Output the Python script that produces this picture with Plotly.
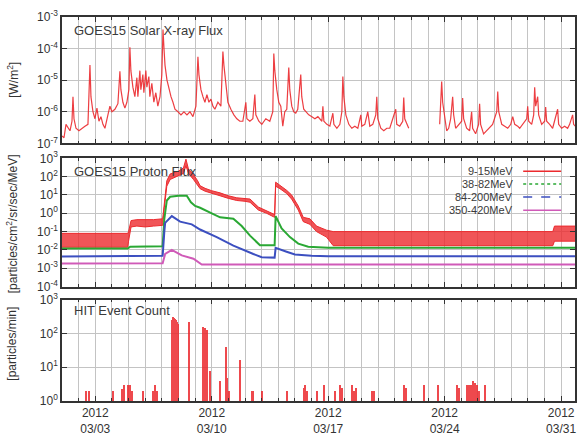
import pandas as pd
import plotly.graph_objects as go
from plotly.subplots import make_subplots

START = pd.Timestamp("2012-03-01")

# ---------------- GOES15 X-ray flux (days since 2012-03-01, W/m^2) -------------
xray_day = [0.0, 0.12, 0.24, 0.36, 0.48, 0.6, 0.66, 0.72, 0.84, 1.02, 1.2, 1.38, 1.56, 1.68, 1.74,
            1.86, 1.98, 2.1, 2.22, 2.34, 2.46, 2.58, 2.76, 2.88, 3.0, 3.18, 3.36, 3.48, 3.54, 3.66,
            3.78, 3.9, 4.02, 4.08, 4.14, 4.26, 4.38, 4.5, 4.56, 4.68, 4.74, 4.86, 4.92, 5.04, 5.1,
            5.22, 5.28, 5.4, 5.52, 5.64, 5.76, 5.89, 6.0, 6.07, 6.13, 6.19, 6.31, 6.43, 6.55, 6.67,
            6.79, 6.97, 7.15, 7.33, 7.51, 7.69, 7.87, 8.05, 8.17, 8.23, 8.35, 8.47, 8.59, 8.71, 8.83,
            8.95, 9.07, 9.19, 9.37, 9.55, 9.67, 9.73, 9.85, 9.97, 10.15, 10.33, 10.51, 10.69, 10.87,
            11.05, 11.11, 11.29, 11.47, 11.59, 11.65, 11.83, 12.01, 12.25, 12.49, 12.67, 12.73, 12.79,
            12.91, 13.03, 13.15, 13.27, 13.39, 13.51, 13.63, 13.69, 13.81, 13.93, 14.05, 14.17, 14.35,
            14.41, 14.53, 14.65, 14.83, 15.02, 15.2, 15.38, 15.62, 15.68, 15.74, 15.92, 16.1, 16.28,
            16.34, 16.52, 16.7, 16.82, 16.88, 16.94, 17.06, 17.24, 17.42, 17.6, 17.78, 17.96, 18.02,
            18.2, 18.38, 18.5, 18.68, 18.86, 18.92, 18.98, 19.16, 19.34, 19.52, 19.7, 20.06, 20.12,
            20.3, 20.48, 20.54, 20.6, 20.72, 20.84, 21.8,
            22.7, 22.82, 22.88, 23.0, 23.12, 23.24, 23.36, 23.48, 23.54, 23.66, 23.84, 24.02, 24.08,
            24.14, 24.32, 24.5, 24.62, 24.68, 24.86, 25.04, 25.1, 25.16, 25.34, 25.52, 25.7, 25.88,
            26.13, 26.19, 26.25, 26.43, 26.61, 26.79, 26.97, 27.09, 27.21, 27.39, 27.51, 27.69, 27.93,
            27.99, 28.05, 28.23, 28.35, 28.41, 28.47, 28.59, 28.65, 28.83, 29.01, 29.07, 29.13, 29.31,
            29.49, 29.79, 29.85, 30.03, 30.21, 30.39, 30.51, 30.69, 30.75, 30.85]
xray_flux = [1.7e-7, 1.5e-7, 4e-7, 3e-7, 2.5e-7, 5e-7, 3e-6, 6e-7, 3e-7, 2.5e-7, 3e-7, 3.5e-7, 4e-7, 3e-5, 3e-6,
             1e-6, 6e-7, 1.3e-6, 5e-7, 7e-7, 4e-7, 3e-7, 8e-7, 1.5e-6, 1e-6, 1.2e-6, 1.8e-6, 1.9e-5, 5e-6, 2e-6,
             1.3e-6, 2e-6, 5e-6, 1.1e-4, 2e-5, 6e-6, 3e-6, 1.2e-5, 3e-6, 2e-5, 5e-6, 1.5e-5, 4e-6, 2e-5, 6e-6,
             1.3e-5, 3e-6, 8e-6, 2e-6, 4e-6, 1.5e-6, 3e-6, 1.5e-5, 4e-4, 1e-4, 3e-5, 1e-5, 5e-6, 3e-6, 2e-6,
             1.2e-6, 1e-6, 8e-7, 1e-6, 8e-7, 1e-6, 7e-7, 1.5e-6, 5.5e-5, 1.5e-5, 5e-6, 3e-6, 2e-6, 3.5e-6, 2e-6,
             2.5e-6, 1.5e-6, 1.2e-6, 2e-6, 1.5e-6, 8e-5, 3e-5, 6e-6, 2e-6, 1.2e-6, 8e-7, 6e-7, 5e-7, 5e-7,
             2e-6, 6e-7, 5e-7, 6e-7, 3.5e-6, 8e-7, 5e-7, 4e-7, 6e-7, 5e-7, 1e-6, 7e-5, 2e-5,
             5e-6, 2e-6, 1.5e-6, 3.5e-7, 1e-6, 1.2e-6, 2.5e-5, 5e-6, 1.5e-6, 1e-6, 9e-7, 1.2e-6, 1.5e-5,
             3e-6, 1.2e-6, 1e-6, 8e-7, 7e-7, 6e-7, 7e-7, 5e-7, 1.5e-6, 5e-7, 4e-7, 3.5e-7, 9e-7,
             4e-7, 3e-7, 4e-7, 1e-6, 1.3e-5, 3e-6, 8e-7, 4e-7, 3e-7, 3.5e-7, 3e-7, 8e-7, 3.5e-7,
             4e-7, 1e-6, 3.5e-7, 4e-7, 8e-7, 3e-6, 6e-7, 3e-7, 2.5e-7, 3e-7, 3e-7, 1.2e-6, 4e-7,
             3.5e-7, 5e-7, 2.8e-6, 6e-7, 4e-7, 3e-7, None,
             4e-7, 9e-6, 2e-6, 6e-7, 2.5e-7, 3e-7, 6e-7, 3e-6, 8e-7, 3e-7, 4e-7, 5e-7, 2.7e-6,
             6e-7, 3e-7, 2.5e-7, 1e-6, 3e-7, 2e-7, 4e-7, 1.8e-6, 4e-7, 2e-7, 2.5e-7, 3e-7, 4e-7,
             1e-6, 4.4e-6, 1e-6, 4e-7, 3.5e-7, 3e-7, 4e-7, 7e-7, 4e-7, 3.5e-7, 3e-7, 4e-7, 6e-7,
             1.5e-6, 5e-7, 4e-7, 8e-7, 6e-6, 1.5e-6, 3e-6, 8e-7, 4e-7, 5e-7, 1.4e-6, 5e-7, 4e-7,
             3e-7, 1.2e-6, 4e-7, 3e-7, 3.5e-7, 3e-7, 4e-7, 8e-7, 4e-7, 3.5e-7]

# ---------------- GOES15 proton flux (particles/cm2/sr/sec/MeV) ----------------
p9_day = [0.0, 3.95, 4.0, 4.15, 4.5, 5.0, 5.5, 6.05, 6.15, 6.3, 6.5, 7.0, 7.3, 7.45, 7.6, 7.9,
          8.15, 8.3, 8.6, 9.0, 9.5, 10.0, 10.5, 11.0, 11.3, 11.8, 12.3, 12.7, 12.78, 12.84, 13.1,
          13.5, 13.8, 14.2, 14.5, 14.9, 15.3, 15.9, 16.3, 20.0, 25.0, 29.5, 29.6, 31.0]
p9_low = [0.014, 0.014, 0.03, 0.18, 0.2, 0.18, 0.2, 0.22, 2, 30, 70, 120, 150, 400, 150, 70,
          35, 22, 16, 12, 9, 6.5, 5, 4.5, 4, 1.5, 1.0, 0.65, 0.6, 30, 22,
          12, 6, 1.5, 0.35, 0.25, 0.1, 0.05, 0.017, 0.017, 0.017, 0.017, 0.03, 0.03]
p9_high = [0.08, 0.08, 0.1, 0.4, 0.45, 0.45, 0.45, 0.5, 5, 60, 140, 200, 300, 900, 260, 130,
           60, 32, 23, 17, 13, 9, 7, 6.5, 6, 2.2, 1.4, 0.9, 0.85, 50, 34,
           18, 10, 2.5, 0.6, 0.5, 0.2, 0.12, 0.1, 0.1, 0.1, 0.1, 0.2, 0.2]

p38_day = [0.0, 3.95, 4.1, 6.05, 6.15, 6.3, 6.5, 7.0, 7.5, 7.75, 8.0, 8.3, 9.0, 9.5, 10.3, 10.8,
           11.3, 11.9, 12.78, 12.84, 13.2, 13.7, 14.2, 14.8, 16.0, 31.0]
p38_flux = [0.012, 0.012, 0.015, 0.016, 0.5, 5, 8, 9, 9, 4, 2.5, 2, 1.0, 0.6, 0.5, 0.2,
            0.06, 0.018, 0.018, 0.7, 0.15, 0.05, 0.022, 0.015, 0.013, 0.013]

p84_day = [0.0, 6.05, 6.15, 6.2, 6.6, 7.1, 7.8, 8.3, 9.3, 10.3, 11.5, 12.0, 12.78, 12.84, 13.5,
           14.0, 15.0, 16.0, 31.0]
p84_flux = [0.0044, 0.0048, 0.1, 0.3, 0.7, 0.35, 0.25, 0.13, 0.05, 0.017, 0.006, 0.004, 0.0038,
            0.013, 0.008, 0.0056, 0.0048, 0.0045, 0.0045]

p350_day = [0.0, 6.05, 6.2, 6.6, 7.2, 7.9, 8.4, 31.0]
p350_flux = [0.0018, 0.0019, 0.006, 0.01, 0.005, 0.0033, 0.0016, 0.0016]

# ---------------- HIT event count (particles/min) ----------------
hit_day = [1.44, 1.62, 3.06, 3.6, 3.72, 3.96, 4.08, 4.2, 4.86, 5.47, 5.59, 5.71, 6.61, 6.67, 6.73,
           6.79, 6.85, 6.91, 6.97, 7.63, 8.47, 8.59, 8.71, 8.89, 9.49, 9.85, 9.91, 10.03, 10.69,
           11.41, 11.47, 12.01, 13.51, 14.53, 14.59, 14.71, 15.32, 15.74, 16.4, 16.7, 16.82, 17.42,
           17.54, 17.66, 18.62, 18.74, 20.54, 20.66, 21.74, 22.58, 23.72, 23.84, 24.32, 24.44, 24.56,
           24.68, 24.8, 24.92, 25.05, 25.41]
hit_count = [2, 2, 2, 2.3, 3, 3, 3, 2, 2, 2, 3, 2, 250, 320, 300,
             280, 260, 230, 200, 220, 160, 150, 130, 8, 4, 40, 5, 2, 17,
             2, 2, 2, 2, 2.5, 3, 2, 2, 3, 2, 3, 2.5, 3,
             2, 2.5, 2, 2, 3, 2.5, 3, 3, 3, 2.5, 3, 3, 3,
             4, 3.5, 3, 2, 3]

legend_names = ["9-15MeV", "38-82MeV", "84-200MeV", "350-420MeV"]
date_ticks = ["2012-03-03", "2012-03-10", "2012-03-17", "2012-03-24", "2012-03-31"]
date_tick_text = ["2012<br>03/03", "2012<br>03/10", "2012<br>03/17", "2012<br>03/24", "2012<br>03/31"]


def to_dates(days):
    return [START + pd.Timedelta(days=d) for d in days]


RED = "#ec2a2e"
GREEN = "#2aa834"
BLUE = "#3c4fc0"
MAGENTA = "#d05ab8"
FRAME = "#333333"
GRID = "#c4c4c4"
FONT = "Liberation Sans, Arial, sans-serif"

fig = make_subplots(rows=3, cols=1, shared_xaxes=False, vertical_spacing=0.02)

# X-ray
fig.add_trace(go.Scatter(x=to_dates(xray_day), y=xray_flux, mode="lines",
                         line=dict(color=RED, width=1.2), connectgaps=False,
                         opacity=0.9, showlegend=False), row=1, col=1)

# Proton 9-15 MeV band (noisy)
fig.add_trace(go.Scatter(x=to_dates(p9_day), y=p9_low, mode="lines",
                         line=dict(color=RED, width=1), showlegend=False), row=2, col=1)
fig.add_trace(go.Scatter(x=to_dates(p9_day), y=p9_high, mode="lines", fill="tonexty",
                         fillcolor="rgba(236,42,46,0.8)",
                         line=dict(color=RED, width=1), showlegend=False), row=2, col=1)
fig.add_trace(go.Scatter(x=to_dates(p38_day), y=p38_flux, mode="lines",
                         line=dict(color=GREEN, width=2), showlegend=False), row=2, col=1)
fig.add_trace(go.Scatter(x=to_dates(p84_day), y=p84_flux, mode="lines",
                         line=dict(color=BLUE, width=2), showlegend=False), row=2, col=1)
fig.add_trace(go.Scatter(x=to_dates(p350_day), y=p350_flux, mode="lines",
                         line=dict(color=MAGENTA, width=2), showlegend=False), row=2, col=1)

# HIT
fig.add_trace(go.Bar(x=to_dates(hit_day), y=hit_count, width=0.07 * 86400000,
                     marker=dict(color=RED, line=dict(width=0)), opacity=0.85,
                     showlegend=False), row=3, col=1)

xcommon = dict(
    type="date", range=["2012-03-01", "2012-03-31 20:00"],
    tickvals=date_ticks, ticktext=date_tick_text,
    ticks="inside", ticklen=5, tickcolor=FRAME,
    showline=True, linecolor=FRAME, linewidth=1.5, mirror="allticks",
    showgrid=True, gridcolor=GRID, gridwidth=1,
    minor=dict(dtick=86400000, tick0="2012-03-01", showgrid=True, gridcolor=GRID,
               ticks="inside", ticklen=3, tickcolor=FRAME),
    tickfont=dict(family=FONT, size=12, color=FRAME),
    zeroline=False,
)


def sup_labels(lo, hi):
    vals = [10.0 ** k for k in range(lo, hi + 1)]
    text = ["10<sup>%d</sup>" % k for k in range(lo, hi + 1)]
    return vals, text


def ycommon(lo, hi, domain):
    vals, text = sup_labels(lo, hi)
    return dict(
        type="log", range=[lo, hi], domain=domain,
        tickvals=vals, ticktext=text,
        ticks="inside", ticklen=5, tickcolor=FRAME,
        showline=True, linecolor=FRAME, linewidth=1.5, mirror="allticks",
        showgrid=True, gridcolor=GRID, gridwidth=1,
        tickfont=dict(family=FONT, size=12, color=FRAME),
        zeroline=False,
    )


fig.update_layout(
    xaxis=dict(xcommon, showticklabels=False, domain=[0, 1]),
    xaxis2=dict(xcommon, showticklabels=False, domain=[0, 1]),
    xaxis3=dict(xcommon, showticklabels=True, domain=[0, 1]),
    yaxis=ycommon(-7, -3, [0.671, 1.0]),
    yaxis2=ycommon(-4, 3, [0.298, 0.632]),
    yaxis3=ycommon(0, 3, [0.0, 0.264]),
    width=578, height=437,
    margin=dict(l=62, r=1, t=17, b=34),
    paper_bgcolor="white", plot_bgcolor="white",
    bargap=0, barmode="overlay",
    font=dict(family=FONT, color=FRAME),
)

annotations = [
    dict(text="GOES15 Solar X-ray Flux", x=0.019, y=0.966),
    dict(text="GOES15 Proton Flux", x=0.019, y=0.598),
    dict(text="HIT Event Count", x=0.019, y=0.236),
]
for a in annotations:
    fig.add_annotation(text=a["text"], x=a["x"], y=a["y"], xref="paper", yref="paper",
                       xanchor="left", yanchor="middle", showarrow=False,
                       font=dict(family=FONT, size=13, color="#3a3a3a"))

ytitles = [("[W/m<sup>2</sup>]", 0.837), ("[particles/cm<sup>2</sup>/sr/sec/MeV]", 0.461),
           ("[particles/min]", 0.150)]
for t, yy in ytitles:
    fig.add_annotation(text=t, x=-0.097, y=yy, xref="paper", yref="paper", textangle=-90,
                       xanchor="center", yanchor="middle", showarrow=False,
                       font=dict(family=FONT, size=12, color=FRAME))

# legend (text on the left, sample line on the right)
leg_colors = [RED, GREEN, BLUE, MAGENTA]
leg_dash = ["solid", "dot", "dash", "solid"]
leg_y = [0.598, 0.565, 0.531, 0.497]
for name, c, dsh, yy in zip(legend_names, leg_colors, leg_dash, leg_y):
    fig.add_annotation(text=name, x=0.8835, y=yy, xref="paper", yref="paper",
                       xanchor="right", yanchor="middle", showarrow=False,
                       font=dict(family=FONT, size=11, color="#3a3a3a"))
    fig.add_shape(type="line", xref="paper", yref="paper", x0=0.899, x1=0.973, y0=yy, y1=yy,
                  line=dict(color=c, width=1.5, dash=dsh))

fig.write_html("out.html")
